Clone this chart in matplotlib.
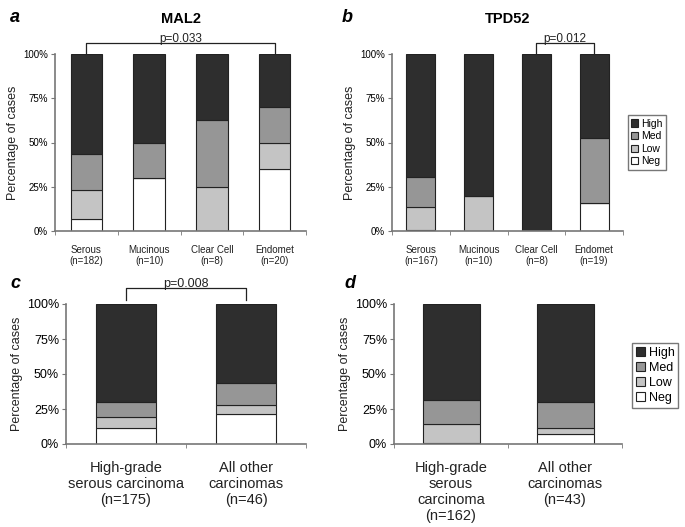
import matplotlib
matplotlib.use('Agg')
from matplotlib import pyplot as plt
import numpy as np

plt.rcParams['font.family'] = ['Liberation Sans', 'DejaVu Sans']

levels = ['Neg', 'Low', 'Med', 'High']
colors = {'Neg': '#ffffff', 'Low': '#c4c4c4', 'Med': '#969696', 'High': '#2e2e2e'}

# panel a - MAL2 by histotype (% of cases)
a_labels = ['Serous\n(n=182)', 'Mucinous\n(n=10)', 'Clear Cell\n(n=8)', 'Endomet\n(n=20)']
a_neg = [6.8, 30, 0, 35]
a_low = [16.1, 0, 25, 15]
a_med = [20.7, 20, 37.5, 20]
a_high = [56.4, 50, 37.5, 30]

# panel b - TPD52 by histotype
b_labels = ['Serous\n(n=167)', 'Mucinous\n(n=10)', 'Clear Cell\n(n=8)', 'Endomet\n(n=19)']
b_neg = [0.6, 0, 0, 15.8]
b_low = [13.2, 20, 0, 0]
b_med = [16.8, 0, 0, 36.8]
b_high = [69.4, 80, 100, 47.4]

# panel c - MAL2 HGSC vs others
c_labels = ['High-grade\nserous carcinoma\n(n=175)', 'All other\ncarcinomas\n(n=46)']
c_neg = [11.4, 21.7]
c_low = [8.0, 6.5]
c_med = [10.9, 15.2]
c_high = [69.7, 56.6]

# panel d - TPD52 HGSC vs others
d_labels = ['High-grade\nserous\ncarcinoma\n(n=162)', 'All other\ncarcinomas\n(n=43)']
d_neg = [0.6, 7.0]
d_low = [13.6, 4.6]
d_med = [17.3, 18.6]
d_high = [68.5, 69.8]

W, H = 685, 527
fig = plt.figure(figsize=(W / 100, H / 100), dpi=100)


def make_ax(l, r, t, b):
    return fig.add_axes([l / W, 1 - b / H, (r - l) / W, (b - t) / H])


def stacked(ax, labels, series, fs_tick, fs_lab, fs_cat, pad):
    x = np.arange(len(labels))
    bottom = np.zeros(len(labels))
    for lev, vals in zip(levels, series):
        ax.bar(x, vals, 0.5, bottom=bottom, color=colors[lev],
               edgecolor='#222222', linewidth=0.8, label=lev)
        bottom += np.array(vals)
    ax.set_xlim(-0.5, len(labels) - 0.5)
    ax.set_ylim(0, 100)
    ax.set_yticks([0, 25, 50, 75, 100])
    ax.set_yticklabels(['0%', '25%', '50%', '75%', '100%'], fontsize=fs_tick)
    ax.set_xticks(x)
    ax.set_xticklabels(labels, fontsize=fs_cat, color='#222222')
    ax.set_xticks(np.arange(len(labels) + 1) - 0.5, minor=True)
    ax.tick_params(axis='x', which='major', length=0, pad=pad)
    ax.tick_params(axis='x', which='minor', length=3, color='#777777')
    ax.tick_params(axis='y', length=3, color='#777777', pad=2)
    ax.set_ylabel('Percentage of cases', fontsize=fs_lab, color='#222222', labelpad=3)
    for s in ['top', 'right']:
        ax.spines[s].set_visible(False)
    for s in ['left', 'bottom']:
        ax.spines[s].set_color('#777777')
        ax.spines[s].set_linewidth(1.2)


def bracket(ax, x0, x1, y0, y1, txt, fs):
    ax.plot([x0, x0, x1, x1], [y0, y1, y1, y0], color='#222222', lw=0.9, clip_on=False)
    ax.text((x0 + x1) / 2, y1 - 1.5, txt, ha='center', va='bottom', fontsize=fs,
            color='#222222', clip_on=False)


def legend(ax, fs, ypos, xpos):
    h, l = ax.get_legend_handles_labels()
    ax.legend(h[::-1], l[::-1], loc='center left', bbox_to_anchor=(xpos, ypos),
              fontsize=fs, frameon=True, fancybox=False, edgecolor='#555555',
              handlelength=0.7, handleheight=0.7, handletextpad=0.3,
              borderpad=0.3, labelspacing=0.25, borderaxespad=0)


axa = make_ax(55, 306, 54, 231)
stacked(axa, a_labels, [a_neg, a_low, a_med, a_high], 7, 9, 7, 10)
bracket(axa, 0, 3, 100, 106.4, 'p=0.033', 8.5)
axa.set_title('MAL2', fontsize=10.5, fontweight='bold', pad=22)

axb = make_ax(392, 623, 54, 231)
stacked(axb, b_labels, [b_neg, b_low, b_med, b_high], 7, 9, 7, 10)
bracket(axb, 2, 3, 100, 106.4, 'p=0.012', 8.5)
axb.set_title('TPD52', fontsize=10.5, fontweight='bold', pad=22)
legend(axb, 7.5, 0.5, 1.02)

axc = make_ax(66, 306, 304, 444)
stacked(axc, c_labels, [c_neg, c_low, c_med, c_high], 9, 9, 10.5, 12)
bracket(axc, 0, 1, 103, 111.4, 'p=0.008', 9)

axd = make_ax(394, 622, 304, 444)
stacked(axd, d_labels, [d_neg, d_low, d_med, d_high], 9, 9, 10.5, 12)
legend(axd, 9, 0.49, 1.045)

for txt, px, py in [('a', 10, 18), ('b', 342, 18), ('c', 10, 283), ('d', 344, 283)]:
    fig.text(px / W, 1 - py / H, txt, fontsize=13, fontweight='bold',
             fontstyle='italic', va='center', ha='left')

fig.savefig('out.png', dpi=100)
